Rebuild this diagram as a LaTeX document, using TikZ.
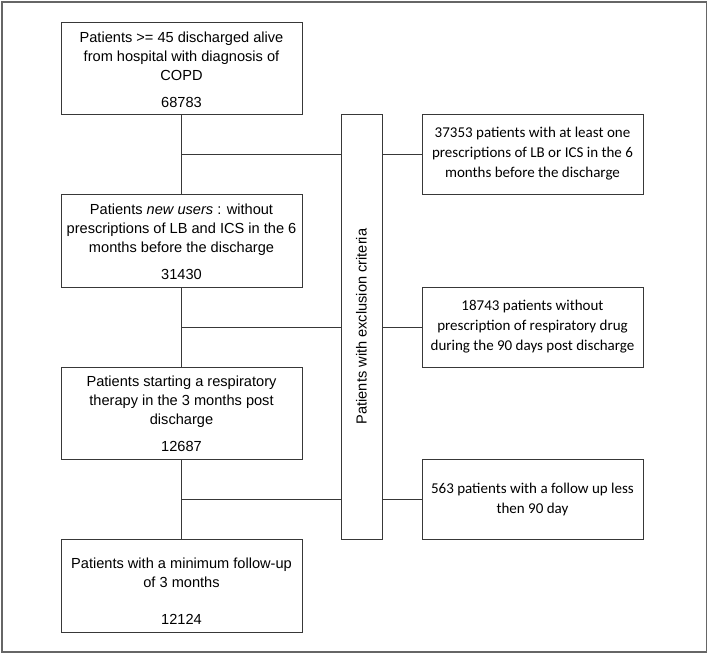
\documentclass[tikz,border=0pt]{standalone}
\usepackage{fontspec}
\setmainfont{Liberation Sans}
\newfontfamily\calib{Carlito}
\begin{document}
\begin{tikzpicture}[x=1pt,y=-1pt,
  box/.style={draw=black!78,line width=0.9pt,inner sep=0pt,rectangle},
  lbox/.style={box,minimum width=241pt},
  rbox/.style={box,minimum width=221pt,minimum height=80pt,align=center,
    font=\calib\fontsize{15}{20}\selectfont},
  ltext/.style={anchor=north,inner sep=0pt,align=center,
    font=\fontsize{14.6}{19}\selectfont},
  conn/.style={draw=black!78,line width=0.9pt}]
\useasboundingbox (0,0) rectangle (709,654);
\draw[draw=black!60,line width=1.6pt] (2,2) rectangle (706.5,652);
% left column boxes
\node[lbox,minimum height=92pt] (b1) at (181.5,68) {};
\node[lbox,minimum height=93pt] (b2) at (181.5,240.5) {};
\node[lbox,minimum height=92pt] (b3) at (181.5,413) {};
\node[lbox,minimum height=93pt] (b4) at (181.5,585.5) {};
\node[ltext] (t1) at (181.5,32) {Patients >= 45 discharged alive\\from hospital with diagnosis of\\COPD\\[8pt]68783};
\node[ltext] (t2) at (181.5,204) {Patients \textit{new users} : without\\prescriptions of LB and ICS in the 6\\months before the discharge\\[8pt]31430};
\node[ltext] (t3) at (181.5,376) {Patients starting a respiratory\\therapy in the 3 months post\\discharge\\[8pt]12687};
\node[ltext] (t4) at (181.5,558) {Patients with a minimum follow-up\\of 3 months\\[18pt]12124};
% exclusion column
\node[box,minimum width=41pt,minimum height=425pt] (ex) at (361.5,326.5) {};
\node[rotate=90,inner sep=0pt,font=\fontsize{14.6}{19}\selectfont] (ext) at (ex.center) {Patients with exclusion criteria};
% right boxes
\node[rbox] (r1) at (532.5,154) {37353 patients with at least one\\prescriptions of LB or ICS in the 6\\months before the discharge};
\node[rbox] (r2) at (532.5,327) {18743 patients without\\prescription of respiratory drug\\during the 90 days post discharge};
\node[rbox] (r3) at (532.5,499) {563 patients with a follow up less\\then 90 day};
% connectors
\coordinate (j1) at (b1.south |- r1.west);
\coordinate (j2) at (b1.south |- r2.west);
\coordinate (j3) at (b1.south |- r3.west);
\draw[conn] (b1.south) -- (b2.north);
\draw[conn] (b2.south) -- (b3.north);
\draw[conn] (b3.south) -- (b4.north);
\draw[conn] (j1) -- (j1 -| ex.west);
\draw[conn] (j2) -- (j2 -| ex.west);
\draw[conn] (j3) -- (j3 -| ex.west);
\draw[conn] (r1.west -| ex.east) -- (r1.west);
\draw[conn] (r2.west -| ex.east) -- (r2.west);
\draw[conn] (r3.west -| ex.east) -- (r3.west);
\end{tikzpicture}
\end{document}
